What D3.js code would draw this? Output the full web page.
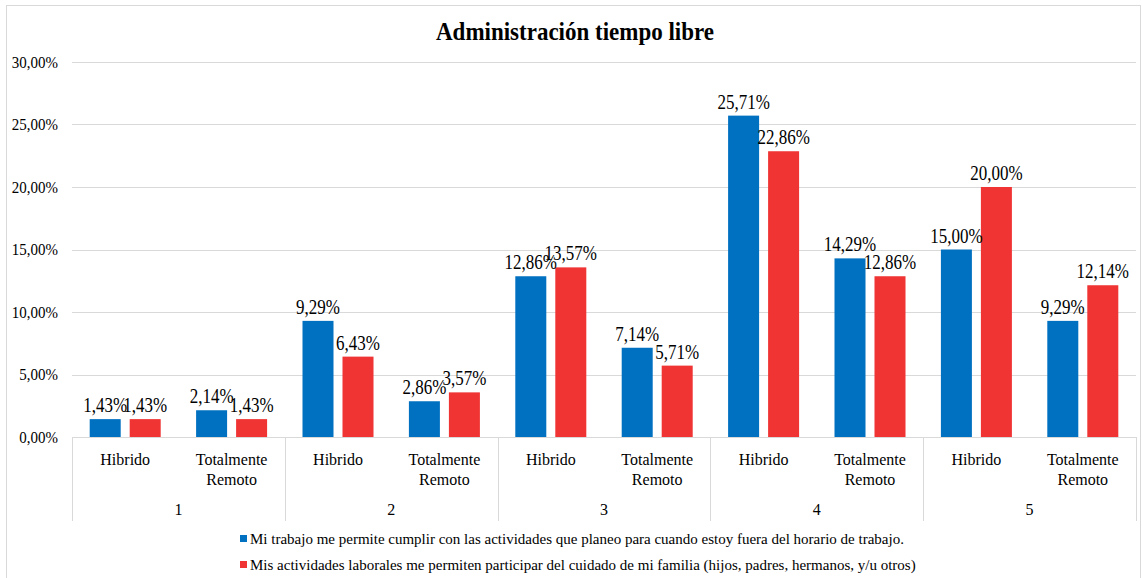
<!DOCTYPE html>
<html>
<head>
<meta charset="utf-8">
<script src="https://cdn.jsdelivr.net/npm/d3@7"></script>
<style>
  html, body { margin: 0; padding: 0; background: #fff; }
  svg { display: block; }
  svg text { font-family: 'Liberation Serif', 'Times New Roman', Times, serif; }
</style>
</head>
<body>
<svg id="chart" width="1142" height="578"></svg>
<script>
// Outer groups (scale answer) and the work modality within each group
const groups = ["1", "2", "3", "4", "5"];
const modalities = ["Hibrido", "Totalmente Remoto"];

// Series names shown in the legend
const seriesNames = [
  "Mi trabajo me permite cumplir con las actividades que planeo para cuando estoy fuera del horario de trabajo.",
  "Mis actividades laborales me permiten participar del cuidado de mi familia (hijos, padres, hermanos, y/u otros)"
];

// Percentages, ordered group by group: Hibrido, Totalmente Remoto
const seriesTrabajo = [1.43, 2.14, 9.29, 2.86, 12.86, 7.14, 25.71, 14.29, 15.00, 9.29];
const seriesFamilia = [1.43, 1.43, 6.43, 3.57, 13.57, 5.71, 22.86, 12.86, 20.00, 12.14];

const yTicks = [0, 5, 10, 15, 20, 25, 30];
const colors = ["#0070C0", "#F03333"];

const FONT = "'Liberation Serif', 'Times New Roman', Times, serif";
const svg = d3.select("#chart").attr("font-family", FONT);

// Outer frame
svg.append("rect")
  .attr("x", 6.5).attr("y", 5.5).attr("width", 1134).attr("height", 600)
  .attr("fill", "none").attr("stroke", "#D9D9D9").attr("stroke-width", 1);

// Title
svg.append("text")
  .attr("transform", "translate(575,40) scale(1,1.08)")
  .attr("text-anchor", "middle")
  .attr("font-family", FONT)
  .attr("font-size", 23).attr("font-weight", "bold").attr("fill", "#000")
  .text("Administración tiempo libre");

const plot = { left: 72, right: 1136, top: 62, bottom: 437 };

const y = d3.scaleLinear().domain([0, 30]).range([plot.bottom, plot.top]);
const xGroup = d3.scaleBand().domain(groups).range([plot.left, plot.right]);
const xMod = d3.scaleBand().domain(modalities).range([0, xGroup.bandwidth()]);
const xSeries = d3.scaleBand().domain([0, 1]).range([0, xMod.bandwidth()])
  .paddingInner(0.225).paddingOuter(0.4425);

// Gridlines
svg.append("g")
  .selectAll("line")
  .data(yTicks.filter(t => t > 0))
  .join("line")
  .attr("x1", plot.left).attr("x2", plot.right)
  .attr("y1", d => Math.round(y(d)) + 0.5).attr("y2", d => Math.round(y(d)) + 0.5)
  .attr("stroke", "#D9D9D9").attr("stroke-width", 1);

// Y axis tick labels
const fmtPct = v => d3.format(".2f")(v).replace(".", ",") + "%";
const yAxis = d3.axisLeft(y).tickValues(yTicks).tickSize(0).tickPadding(14)
  .tickFormat(d => fmtPct(d));
const gy = svg.append("g").attr("transform", `translate(${plot.left},0)`).call(yAxis)
  .attr("font-family", FONT).attr("font-size", 15);
gy.select(".domain").remove();
gy.selectAll("text").attr("fill", "#000")
  .attr("transform", "scale(1,1.1)").attr("y", 0).attr("dy", "0.32em");

// Flatten the rows for drawing
const rows = [];
groups.forEach((g, gi) => {
  modalities.forEach((m, mi) => {
    const idx = gi * modalities.length + mi;
    rows.push({ group: g, modality: m, values: [seriesTrabajo[idx], seriesFamilia[idx]] });
  });
});

// Bars
const barG = svg.append("g");
rows.forEach(r => {
  const x0 = xGroup(r.group) + xMod(r.modality);
  r.values.forEach((v, si) => {
    barG.append("rect")
      .attr("x", x0 + xSeries(si))
      .attr("y", y(v))
      .attr("width", xSeries.bandwidth())
      .attr("height", y(0) - y(v))
      .attr("fill", colors[si]);
  });
});

// Category axis: baseline and separators
svg.append("line")
  .attr("x1", plot.left).attr("x2", plot.right)
  .attr("y1", plot.bottom + 0.5).attr("y2", plot.bottom + 0.5)
  .attr("stroke", "#D9D9D9");
const seps = groups.map(g => xGroup(g)).concat([plot.right]);
svg.append("g").selectAll("line").data(seps).join("line")
  .attr("x1", d => Math.round(d) + 0.5).attr("x2", d => Math.round(d) + 0.5)
  .attr("y1", plot.bottom).attr("y2", 521)
  .attr("stroke", "#D9D9D9");

// Modality labels
const modG = svg.append("g").attr("font-family", FONT).attr("font-size", 16)
  .attr("fill", "#000").attr("text-anchor", "middle");
rows.forEach(r => {
  const cx = xGroup(r.group) + xMod(r.modality) + xMod.bandwidth() / 2;
  const words = r.modality.split(" ");
  words.forEach((w, i) => {
    modG.append("text").attr("x", cx).attr("y", 465 + i * 20).text(w);
  });
});

// Group labels
svg.append("g").attr("font-family", FONT).attr("font-size", 16)
  .attr("fill", "#000").attr("text-anchor", "middle")
  .selectAll("text").data(groups).join("text")
  .attr("x", d => xGroup(d) + xGroup.bandwidth() / 2)
  .attr("y", 515)
  .text(d => d);

// Value labels above bars (slightly tall lettering)
const lblG = svg.append("g").attr("font-family", FONT).attr("font-size", 17)
  .attr("fill", "#000").attr("text-anchor", "middle");
rows.forEach(r => {
  const x0 = xGroup(r.group) + xMod(r.modality);
  r.values.forEach((v, si) => {
    const lx = x0 + xSeries(si) + xSeries.bandwidth() / 2;
    lblG.append("text")
      .attr("transform", `translate(${lx},${y(v) - 7}) scale(1,1.2)`)
      .text(fmtPct(v));
  });
});

// Legend
const legG = svg.append("g").attr("font-family", FONT).attr("font-size", 15).attr("fill", "#000");
seriesNames.forEach((name, i) => {
  const ly = 544 + i * 26;
  legG.append("rect").attr("x", 240).attr("y", ly - 9).attr("width", 7).attr("height", 7).attr("fill", colors[i]);
  legG.append("text").attr("x", 250).attr("y", ly).text(name);
});
</script>
</body>
</html>
